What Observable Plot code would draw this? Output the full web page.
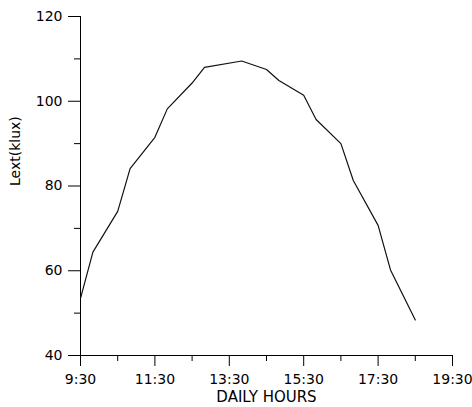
<!DOCTYPE html>
<html><head><meta charset="utf-8">
<script src="https://cdn.jsdelivr.net/npm/d3@7"></script>
<script src="https://cdn.jsdelivr.net/npm/@observablehq/plot@0.6"></script>
<style>body{margin:0;background:#fff}</style>
</head><body><div id="chart"></div>
<script>
const times = ["9:30","9:50","10:30","10:50","11:30","11:50","12:30","12:50","13:50","14:30","14:50","15:30","15:50","16:30","16:50","17:30","17:50","18:30"];
const lux = [53.5,64.4,74.0,84.1,91.5,98.2,104.3,108.0,109.5,107.5,104.9,101.4,95.7,90.0,81.3,70.7,60.2,48.4];
const xMajorTicks = ["9:30","11:30","13:30","15:30","17:30","19:30"];
const xMinorTicks = ["10:30","12:30","14:30","16:30","18:30"];
const yMajorTicks = [40,60,80,100,120];
const yMinorTicks = [50,70,90,110];
const xTitle = "DAILY HOURS";
const yTitle = "Lext(klux)";

const toH = s => { const [h,m] = s.split(":").map(Number); return h + m/60; };
const fmt = v => { const h = Math.floor(v + 1e-9); const m = Math.round((v - h) * 60); return h + ":" + String(m).padStart(2, "0"); };
const data = times.map((t, i) => ({h: toH(t), v: lux[i]}));

const chart = Plot.plot({
  width: 472, height: 407,
  marginLeft: 80, marginRight: 20, marginTop: 16, marginBottom: 52,
  style: {fontFamily: "DejaVu Sans", fontSize: "14px", color: "#000", background: "#fff"},
  x: {domain: [toH(xMajorTicks[0]), toH(xMajorTicks[xMajorTicks.length - 1])]},
  y: {domain: [yMajorTicks[0], yMajorTicks[yMajorTicks.length - 1]]},
  marks: [
    Plot.axisX(xMajorTicks.map(toH), {tickSize: 11, tickPadding: 8, tickFormat: fmt, label: null, stroke: "#000", fontSize: 14}),
    Plot.axisX(xMinorTicks.map(toH), {tickSize: 6, tickFormat: () => "", label: null, stroke: "#000"}),
    Plot.axisY(yMajorTicks, {tickSize: 12, tickPadding: 6, label: null, stroke: "#000", fontSize: 14}),
    Plot.axisY(yMinorTicks, {tickSize: 6, tickFormat: () => "", label: null, stroke: "#000"}),
    Plot.ruleX([toH(xMajorTicks[0])], {stroke: "#000"}),
    Plot.ruleY([yMajorTicks[0]], {stroke: "#000"}),
    Plot.line(data, {x: "h", y: "v", stroke: "#111", strokeWidth: 1.2}),
    Plot.text([xTitle], {text: d => d, frameAnchor: "bottom", dy: 46, fontSize: 15}),
    Plot.text([yTitle], {text: d => d, frameAnchor: "left", rotate: -90, dx: -65, fontSize: 14})
  ]
});
document.getElementById("chart").append(chart);
</script>
</body></html>
